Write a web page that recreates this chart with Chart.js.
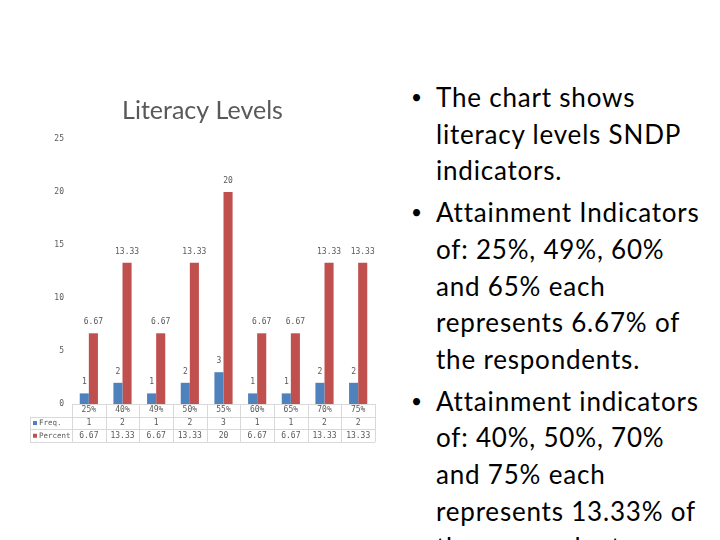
<!DOCTYPE html>
<html>
<head>
<meta charset="utf-8">
<script src="https://cdn.jsdelivr.net/npm/chart.js@4"></script>
<style>
  html, body { margin: 0; padding: 0; background: #fff; }
  body { width: 720px; height: 540px; overflow: hidden; position: relative; }
  #chartBox { position: absolute; left: 30px; top: 90px; width: 350px; height: 360px; }
  #notes { position: absolute; left: 400px; top: 79px; width: 320px; margin: 0; padding: 0;
           list-style: none; font-family: Lato, 'Noto Sans', sans-serif; font-size: 26px;
           letter-spacing: 0.8px; line-height: 36.7px; color: #000; white-space: nowrap; }
  #notes li { position: relative; padding-left: 36px; margin-bottom: 5px; }
  #notes li::before { content: "\2022"; position: absolute; left: 11px; top: 0; font-size: 19px; }
</style>
</head>
<body>
<div id="chartBox"><canvas id="myChart"></canvas></div>
<ul id="notes">
  <li>The chart shows<br>literacy levels SNDP<br>indicators.</li>
  <li>Attainment Indicators<br>of: 25%, 49%, 60%<br>and 65% each<br>represents 6.67% of<br>the respondents.</li>
  <li>Attainment indicators<br>of: 40%, 50%, 70%<br>and 75% each<br>represents 13.33% of<br>the respondents.</li>
</ul>
<script>
// dados do grafico
const categories = ['25%', '40%', '49%', '50%', '55%', '60%', '65%', '70%', '75%'];
const freq = [1, 2, 1, 2, 3, 1, 1, 2, 2];
const percent = [6.67, 13.33, 6.67, 13.33, 20, 6.67, 6.67, 13.33, 13.33];
const seriesNames = ['Freq.', 'Percent'];
const yMax = 25;
const yStep = 5;

const smallFont = '8px "DejaVu Sans Mono"';
const textGray = '#595959';
const lineGray = '#d9d9d9';

// valores em cima das barras
const barLabels = {
  id: 'barLabels',
  afterDatasetsDraw(chart) {
    const ctx = chart.ctx;
    ctx.save();
    ctx.font = smallFont;
    ctx.fillStyle = textGray;
    ctx.textAlign = 'center';
    ctx.textBaseline = 'bottom';
    chart.data.datasets.forEach((ds, di) => {
      chart.getDatasetMeta(di).data.forEach((bar, i) => {
        ctx.fillText(String(ds.data[i]), bar.x, bar.y - 7);
      });
    });
    ctx.restore();
  }
};

// tabela de dados embaixo do grafico
const dataTable = {
  id: 'dataTable',
  afterDraw(chart) {
    const ctx = chart.ctx;
    const area = chart.chartArea;
    const x = chart.scales.x;
    const n = categories.length;
    const colW = area.width / n;
    const rowH = 12.7;
    const top = area.bottom;
    const left = 0;
    ctx.save();
    ctx.strokeStyle = lineGray;
    ctx.lineWidth = 1;
    ctx.beginPath();
    ctx.moveTo(area.left, top + 0.5); ctx.lineTo(area.right, top + 0.5);
    for (let r = 1; r <= 3; r++) {
      const y = Math.round(top + r * rowH) + 0.5;
      ctx.moveTo(left, y); ctx.lineTo(area.right, y);
    }
    ctx.moveTo(left + 0.5, top + rowH); ctx.lineTo(left + 0.5, top + 3 * rowH);
    for (let c = 0; c <= n; c++) {
      const xx = Math.round(area.left + c * colW) + 0.5;
      ctx.moveTo(xx, top); ctx.lineTo(xx, top + 3 * rowH);
    }
    ctx.stroke();

    ctx.font = smallFont;
    ctx.fillStyle = textGray;
    ctx.textAlign = 'center';
    ctx.textBaseline = 'middle';
    const rows = [categories, freq, percent];
    rows.forEach((row, r) => {
      const yy = top + r * rowH + rowH / 2;
      row.forEach((v, i) => ctx.fillText(String(v), x.getPixelForValue(i), yy));
    });
    ctx.textAlign = 'left';
    ctx.font = '7.5px "DejaVu Sans Mono"';
    chart.data.datasets.forEach((ds, di) => {
      const yy = top + (di + 1) * rowH + rowH / 2;
      ctx.fillStyle = ds.backgroundColor;
      ctx.fillRect(left + 3, yy - 2, 4, 4);
      ctx.fillStyle = textGray;
      ctx.fillText(seriesNames[di], left + 9, yy);
    });
    ctx.restore();
  }
};

new Chart(document.getElementById('myChart').getContext('2d'), {
  type: 'bar',
  data: {
    labels: categories,
    datasets: [
      { label: seriesNames[0], data: freq, backgroundColor: '#4F81BD' },
      { label: seriesNames[1], data: percent, backgroundColor: '#C0504D' }
    ]
  },
  options: {
    responsive: true,
    maintainAspectRatio: false,
    animation: false,
    layout: { padding: { left: 0, right: 5, bottom: 46 } },
    datasets: { bar: { categoryPercentage: 0.54, barPercentage: 1 } },
    plugins: {
      legend: { display: false },
      tooltip: { enabled: false },
      title: {
        display: true,
        text: 'Literacy Levels',
        color: '#595959',
        font: { family: 'Lato', size: 25, weight: 'normal' },
        padding: { top: 6, bottom: 13 }
      }
    },
    scales: {
      x: { display: false },
      y: {
        min: 0,
        max: yMax,
        grid: { display: false, drawTicks: false },
        border: { display: false },
        ticks: { stepSize: yStep, padding: 8, color: textGray, font: { family: 'DejaVu Sans Mono', size: 8 } },
        afterFit(scale) { scale.width = 42; }
      }
    }
  },
  plugins: [barLabels, dataTable]
});
</script>
</body>
</html>
